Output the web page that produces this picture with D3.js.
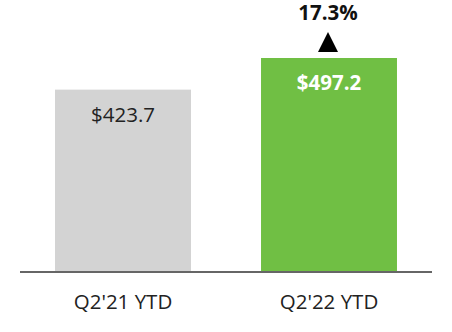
<!DOCTYPE html>
<html>
<head>
<meta charset="utf-8">
<script src="https://cdn.jsdelivr.net/npm/d3@7"></script>
<style>
  body { margin: 0; background: #fff; }
  text { font-family: "Open Sans", sans-serif; }
</style>
</head>
<body>
<div id="chart"></div>
<script>
// data
const categories = ["Q2'21 YTD", "Q2'22 YTD"];
const values = [423.7, 497.2];
const valueLabels = ["$423.7", "$497.2"];
const growthLabel = "17.3%";

const width = 452, height = 332;
const baseY = 272;

const svg = d3.select("#chart").append("svg")
  .attr("width", width)
  .attr("height", height);

const x = d3.scaleBand()
  .domain(categories)
  .range([20, 432])
  .paddingInner(0.34)
  .paddingOuter(0.17);

const y = d3.scaleLinear()
  .domain([0, 497.2])
  .range([baseY, 58]);

const colors = ["#d3d3d3", "#70bf44"];

// bars
svg.selectAll("rect.bar")
  .data(values)
  .join("rect")
  .attr("class", "bar")
  .attr("x", (d, i) => x(categories[i]))
  .attr("y", d => y(d))
  .attr("width", x.bandwidth())
  .attr("height", d => baseY - y(d))
  .attr("fill", (d, i) => colors[i]);

// value labels inside bars
svg.selectAll("text.val")
  .data(values)
  .join("text")
  .attr("class", "val")
  .attr("x", (d, i) => x(categories[i]) + x.bandwidth() / 2)
  .attr("y", d => y(d) + 32)
  .attr("text-anchor", "middle")
  .attr("font-size", 20.5)
  .attr("font-weight", (d, i) => i === 1 ? "bold" : "normal")
  .attr("fill", (d, i) => i === 1 ? "#fff" : "#222")
  .text((d, i) => valueLabels[i]);

// axis
const axis = svg.append("g")
  .attr("transform", `translate(0,${baseY})`)
  .call(d3.axisBottom(x).tickSize(0).tickPadding(22));
axis.select(".domain")
  .attr("stroke", "#666")
  .attr("stroke-width", 2)
  .attr("d", "M20,0H432");
axis.selectAll(".tick text")
  .attr("font-size", 20.5)
  .attr("fill", "#222")
  .style("font-family", "'Open Sans', sans-serif");

// growth marker
const cx = x(categories[1]) + x.bandwidth() / 2 - 1;
const barTop = y(values[1]);
svg.append("path")
  .attr("d", d3.line()([[cx - 10, barTop - 6], [cx + 10, barTop - 6], [cx, barTop - 26]]) + "Z")
  .attr("fill", "#000");
svg.append("text")
  .attr("x", cx)
  .attr("y", barTop - 38)
  .attr("text-anchor", "middle")
  .attr("font-size", 20.5)
  .attr("font-weight", "bold")
  .attr("fill", "#111")
  .text(growthLabel);
</script>
</body>
</html>
